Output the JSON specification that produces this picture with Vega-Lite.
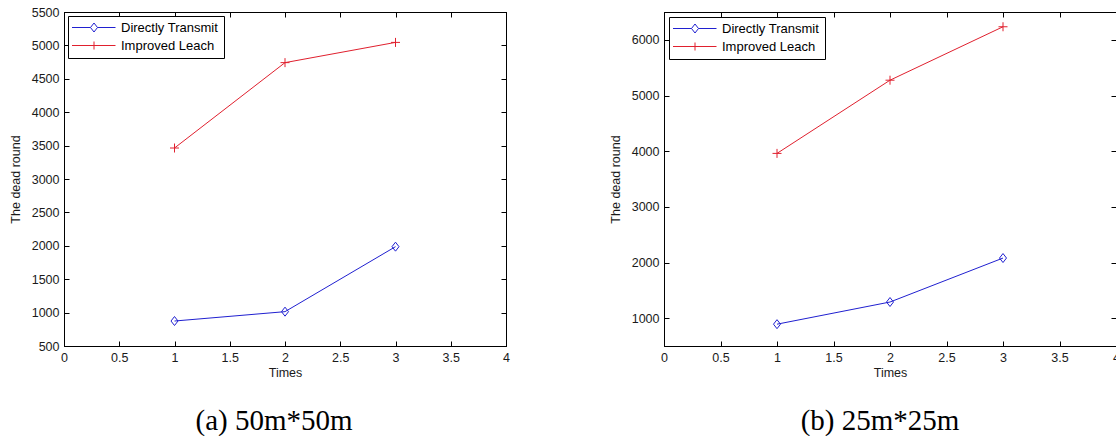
{
  "$schema": "https://vega.github.io/schema/vega-lite/v6.json",
  "padding": {"left": 8, "top": 5, "right": 0, "bottom": 0},
  "background": "white",
  "spacing": 98,
  "data": {"values": [
    {"panel": "a", "series": "Directly Transmit", "times": 1, "value": 874},
    {"panel": "a", "series": "Directly Transmit", "times": 2, "value": 1014},
    {"panel": "a", "series": "Directly Transmit", "times": 3, "value": 1987},
    {"panel": "a", "series": "Improved Leach", "times": 1, "value": 3464},
    {"panel": "a", "series": "Improved Leach", "times": 2, "value": 4742},
    {"panel": "a", "series": "Improved Leach", "times": 3, "value": 5045},
    {"panel": "b", "series": "Directly Transmit", "times": 1, "value": 892},
    {"panel": "b", "series": "Directly Transmit", "times": 2, "value": 1290},
    {"panel": "b", "series": "Directly Transmit", "times": 3, "value": 2080},
    {"panel": "b", "series": "Improved Leach", "times": 1, "value": 3960},
    {"panel": "b", "series": "Improved Leach", "times": 2, "value": 5275},
    {"panel": "b", "series": "Improved Leach", "times": 3, "value": 6235}
  ]},
  "hconcat": [
    {
      "width": 442, "height": 334,
      "title": {"text": "(a) 50m*50m", "orient": "bottom", "anchor": "middle", "font": "Liberation Serif", "fontSize": 29, "fontWeight": "normal", "color": "#000", "baseline": "alphabetic", "offset": 51, "dx": -11},
      "transform": [{"filter": "datum.panel == 'a'"}],
      "layer": [
        {
          "transform": [{"filter": "datum.series == 'Directly Transmit'"}],
          "mark": {"type": "line", "color": "#2020d0", "strokeWidth": 1},
          "encoding": {
            "x": {"field": "times", "type": "quantitative", "scale": {"domain": [0, 4], "nice": false, "zero": false},
                  "axis": {"orient": "bottom", "title": "Times", "titlePadding": 3, "values": [0, 0.5, 1, 1.5, 2, 2.5, 3, 3.5, 4], "format": "~g", "labelFlush": false}},
            "y": {"field": "value", "type": "quantitative", "scale": {"domain": [500, 5500], "nice": false, "zero": false},
                  "axis": {"orient": "left", "title": "The dead round", "values": [500, 1000, 1500, 2000, 2500, 3000, 3500, 4000, 4500, 5000, 5500], "format": "d", "labelFlush": false}}
          }
        },
        {
          "transform": [{"filter": "datum.series == 'Improved Leach'"}],
          "mark": {"type": "line", "color": "#e0202e", "strokeWidth": 1},
          "encoding": {
            "x": {"field": "times", "type": "quantitative", "axis": null},
            "y": {"field": "value", "type": "quantitative", "axis": null}
          }
        },
        {
          "transform": [{"filter": "datum.series == 'Directly Transmit'"}],
          "mark": {"type": "point", "shape": "M0,-1L0.78,0L0,1L-0.78,0Z", "size": 81, "filled": false, "color": "#2020d0", "strokeWidth": 1, "opacity": 1},
          "encoding": {
            "x": {"field": "times", "type": "quantitative", "axis": null},
            "y": {"field": "value", "type": "quantitative", "axis": null}
          }
        },
        {
          "transform": [{"filter": "datum.series == 'Improved Leach'"}],
          "mark": {"type": "point", "shape": "M-1,0H1M0,-1V1", "size": 81, "filled": false, "color": "#e0202e", "strokeWidth": 1, "opacity": 1},
          "encoding": {
            "x": {"field": "times", "type": "quantitative", "axis": null},
            "y": {"field": "value", "type": "quantitative", "axis": null}
          }
        },
        {
          "mark": {"type": "point", "filled": false, "opacity": 0, "size": 100, "strokeWidth": 1},
          "encoding": {
            "x": {"field": "times", "type": "quantitative",
                  "axis": {"orient": "top", "title": null, "labels": false, "values": [0, 0.5, 1, 1.5, 2, 2.5, 3, 3.5, 4]}},
            "y": {"field": "value", "type": "quantitative",
                  "axis": {"orient": "right", "title": null, "labels": false, "values": [500, 1000, 1500, 2000, 2500, 3000, 3500, 4000, 4500, 5000, 5500]}},
            "color": {"field": "series", "type": "nominal",
                      "scale": {"domain": ["Directly Transmit", "Improved Leach"], "range": ["#2020d0", "#e0202e"]},
                      "legend": {"title": null, "orient": "top-left", "offset": 4}},
            "shape": {"field": "series", "type": "nominal",
                      "scale": {"domain": ["Directly Transmit", "Improved Leach"], "range": ["M-1.5,0H2.2M3.6,0H7.2M2.9,-0.9L3.6,0L2.9,0.9L2.2,0Z", "M-1.5,0H7.2M2.9,-0.8V0.8"]},
                      "legend": {"title": null, "orient": "top-left", "offset": 4}}
          }
        }
      ]
    },
    {
      "width": 452, "height": 334,
      "title": {"text": "(b) 25m*25m", "orient": "bottom", "anchor": "middle", "font": "Liberation Serif", "fontSize": 29, "fontWeight": "normal", "color": "#000", "baseline": "alphabetic", "offset": 51, "dx": -10},
      "transform": [{"filter": "datum.panel == 'b'"}],
      "layer": [
        {
          "transform": [{"filter": "datum.series == 'Directly Transmit'"}],
          "mark": {"type": "line", "color": "#2020d0", "strokeWidth": 1},
          "encoding": {
            "x": {"field": "times", "type": "quantitative", "scale": {"domain": [0, 4], "nice": false, "zero": false},
                  "axis": {"orient": "bottom", "title": "Times", "titlePadding": 3, "values": [0, 0.5, 1, 1.5, 2, 2.5, 3, 3.5, 4], "format": "~g", "labelFlush": false}},
            "y": {"field": "value", "type": "quantitative", "scale": {"domain": [500, 6500], "nice": false, "zero": false},
                  "axis": {"orient": "left", "title": "The dead round", "values": [1000, 2000, 3000, 4000, 5000, 6000], "format": "d", "labelFlush": false}}
          }
        },
        {
          "transform": [{"filter": "datum.series == 'Improved Leach'"}],
          "mark": {"type": "line", "color": "#e0202e", "strokeWidth": 1},
          "encoding": {
            "x": {"field": "times", "type": "quantitative", "axis": null},
            "y": {"field": "value", "type": "quantitative", "axis": null}
          }
        },
        {
          "transform": [{"filter": "datum.series == 'Directly Transmit'"}],
          "mark": {"type": "point", "shape": "M0,-1L0.78,0L0,1L-0.78,0Z", "size": 81, "filled": false, "color": "#2020d0", "strokeWidth": 1, "opacity": 1},
          "encoding": {
            "x": {"field": "times", "type": "quantitative", "axis": null},
            "y": {"field": "value", "type": "quantitative", "axis": null}
          }
        },
        {
          "transform": [{"filter": "datum.series == 'Improved Leach'"}],
          "mark": {"type": "point", "shape": "M-1,0H1M0,-1V1", "size": 81, "filled": false, "color": "#e0202e", "strokeWidth": 1, "opacity": 1},
          "encoding": {
            "x": {"field": "times", "type": "quantitative", "axis": null},
            "y": {"field": "value", "type": "quantitative", "axis": null}
          }
        },
        {
          "mark": {"type": "point", "filled": false, "opacity": 0, "size": 100, "strokeWidth": 1},
          "encoding": {
            "x": {"field": "times", "type": "quantitative",
                  "axis": {"orient": "top", "title": null, "labels": false, "values": [0, 0.5, 1, 1.5, 2, 2.5, 3, 3.5, 4]}},
            "y": {"field": "value", "type": "quantitative",
                  "axis": {"orient": "right", "title": null, "labels": false, "values": [1000, 2000, 3000, 4000, 5000, 6000]}},
            "color": {"field": "series", "type": "nominal",
                      "scale": {"domain": ["Directly Transmit", "Improved Leach"], "range": ["#2020d0", "#e0202e"]},
                      "legend": {"title": null, "orient": "top-left", "offset": 5}},
            "shape": {"field": "series", "type": "nominal",
                      "scale": {"domain": ["Directly Transmit", "Improved Leach"], "range": ["M-1.5,0H2.2M3.6,0H7.2M2.9,-0.9L3.6,0L2.9,0.9L2.2,0Z", "M-1.5,0H7.2M2.9,-0.8V0.8"]},
                      "legend": {"title": null, "orient": "top-left", "offset": 5}}
          }
        }
      ]
    }
  ],
  "resolve": {"scale": {"color": "independent", "shape": "independent"}, "legend": {"color": "independent", "shape": "independent"}},
  "config": {
    "view": {"stroke": "#000", "strokeWidth": 1},
    "axis": {
      "grid": false,
      "domainColor": "#000",
      "domainWidth": 1,
      "tickColor": "#000",
      "tickSize": -5,
      "tickWidth": 1,
      "labelPadding": 10,
      "labelFont": "Liberation Sans",
      "labelFontSize": 12.5,
      "labelColor": "#1a1a1a",
      "titleFont": "Liberation Sans",
      "titleFontSize": 12.5,
      "titleFontWeight": "normal",
      "titleColor": "#1a1a1a",
      "titlePadding": 9
    },
    "legend": {
      "labelFont": "Liberation Sans",
      "labelFontSize": 13,
      "labelColor": "#000",
      "labelOffset": 35,
      "symbolSize": 100,
      "symbolStrokeWidth": 1,
      "symbolOpacity": 1,
      "symbolFillColor": "transparent",
      "strokeColor": "#000",
      "fillColor": "#fff",
      "padding": 5,
      "rowPadding": 4,
      "cornerRadius": 0
    }
  }
}
